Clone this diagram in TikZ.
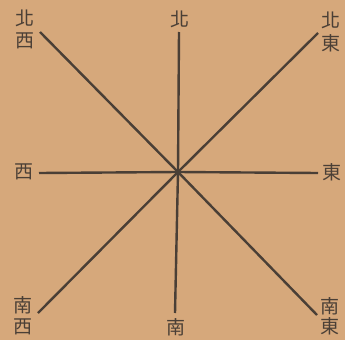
\documentclass[tikz,border=0pt]{standalone}
\usepackage{fontspec}
\newfontfamily\cjk{Noto Sans CJK TC}
\usepackage{tikz}
\definecolor{paperc}{HTML}{D6A87B}
\definecolor{inkc}{HTML}{4A3F36}

\begin{document}
\begin{tikzpicture}[x=1pt, y=-1pt,
  dirc/.style={font=\cjk\fontsize{19}{20}\selectfont, text=inkc, inner sep=0pt},
  spoke/.style={draw=inkc, line width=2.4pt}]
  \fill[paperc] (0,0) rectangle (345,340);
  \useasboundingbox (0,0) rectangle (345,340);
  % centre and line ends
  \coordinate (c) at (178,172);
  \coordinate (n) at (179,32);
  \coordinate (s) at (175,313);
  \coordinate (w) at (39,173);
  \coordinate (e) at (318,173);
  \coordinate (nw) at (40,32);
  \coordinate (ne) at (318,33);
  \coordinate (sw) at (38,313);
  \coordinate (se) at (317,315);
  \foreach \d in {n,s,w,e,nw,ne,sw,se}
    \draw[spoke] (c) -- (\d);
  % labels
  \node[dirc] (lbn) at (180,19) {北};
  \node[dirc] (lbs) at (176,327) {南};
  \node[dirc] (lbw) at (24,172) {西};
  \node[dirc] (lbe) at (332,172) {東};
  \node[dirc] (lbnwa) at (25,18) {北};
  \node[dirc] (lbnwb) at (25,41) {西};
  \node[dirc] (lbnea) at (331,20) {北};
  \node[dirc] (lbneb) at (331,43) {東};
  \node[dirc] (lbswa) at (23,305) {南};
  \node[dirc] (lbswb) at (23,327) {西};
  \node[dirc] (lbsea) at (330,306) {南};
  \node[dirc] (lbseb) at (330,326) {東};
\end{tikzpicture}
\end{document}
